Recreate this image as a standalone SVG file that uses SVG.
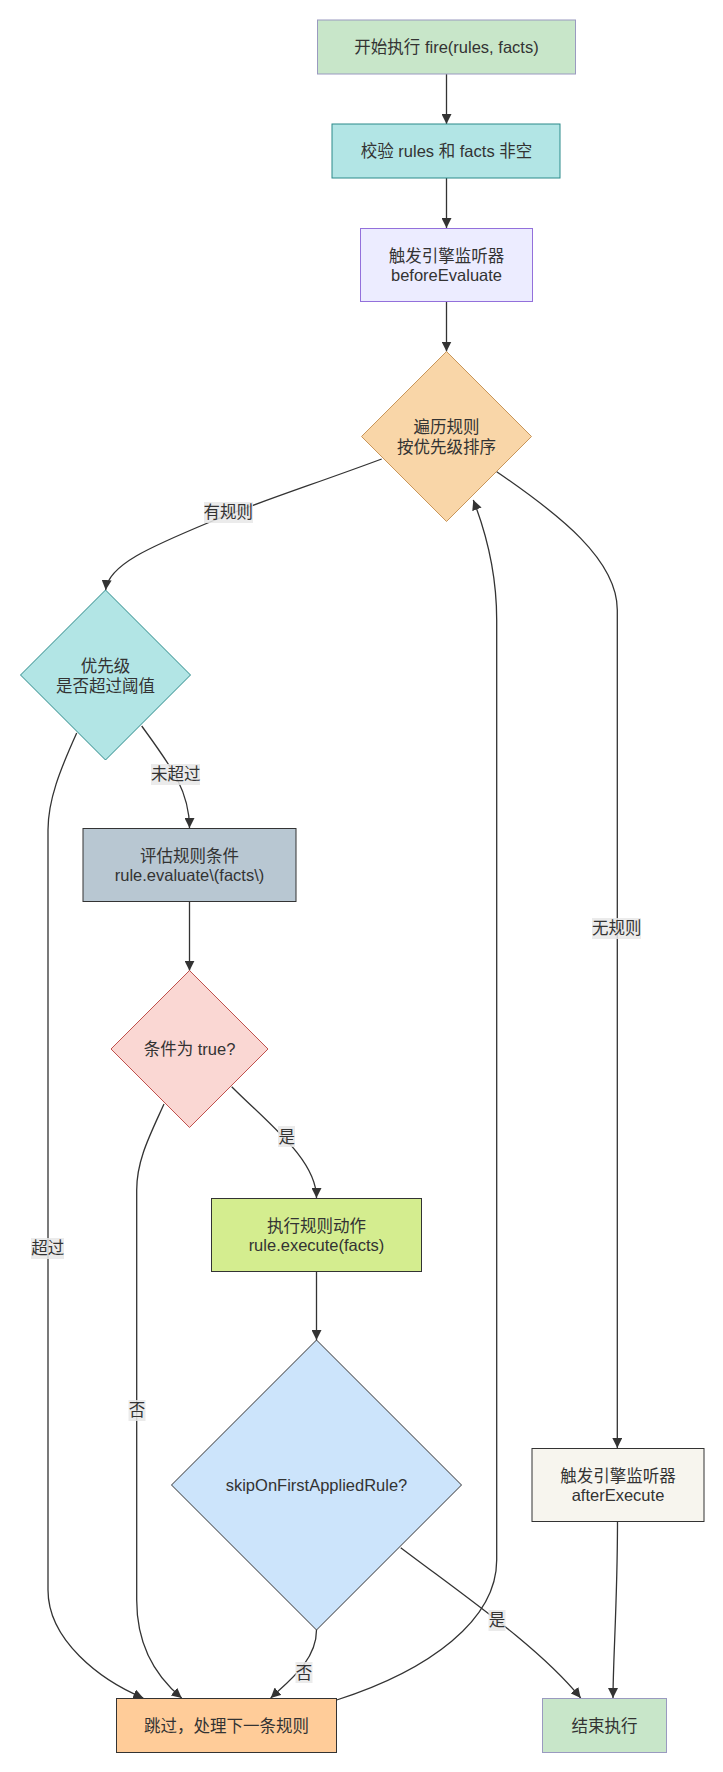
<svg xmlns="http://www.w3.org/2000/svg" width="723" height="1772" viewBox="0 0 723 1772">
<style>
text{font-family:"Liberation Sans","Noto Sans CJK SC",sans-serif;font-size:16.5px;fill:#333;text-anchor:middle;dominant-baseline:central}
.edge{fill:none;stroke:#333;stroke-width:1.3}
.lbl{fill:#e8e8e8;opacity:0.85}
</style>
<defs>
<marker id="arr" viewBox="0 0 10 10" refX="10" refY="5" markerUnits="userSpaceOnUse" markerWidth="10" markerHeight="10" orient="auto">
<path d="M0,0 L10,5 L0,10 z" fill="#333"/>
</marker>
</defs>
<rect width="723" height="1772" fill="#ffffff"/>
<g id="connectors">
<path class="edge" d="M446.5,74 L446.5,124" marker-end="url(#arr)"/>
<path class="edge" d="M446.5,178 L446.5,228" marker-end="url(#arr)"/>
<path class="edge" d="M446.5,301 L446.5,351.5" marker-end="url(#arr)"/>
<path class="edge" d="M381.7,459 C320,482 250,505 210,522 C150,547 108,565 105.7,590" marker-end="url(#arr)"/>
<path class="edge" d="M496.7,471.7 C560,515 617.3,560 617.3,610 L617.3,1448" marker-end="url(#arr)"/>
<path class="edge" d="M141.7,726 C170,765 189.5,790 189.5,828" marker-end="url(#arr)"/>
<path class="edge" d="M76.7,733 C60,770 48,800 48,830 L48,1590 C48,1640 100,1680 143.3,1698" marker-end="url(#arr)"/>
<path class="edge" d="M189.5,901.7 L189.5,970.7" marker-end="url(#arr)"/>
<path class="edge" d="M231.7,1086.7 C270,1125 316.5,1160 316.5,1198" marker-end="url(#arr)"/>
<path class="edge" d="M164,1104 C150,1135 136.7,1160 136.7,1190 L136.7,1600 C136.7,1650 160,1680 181.7,1698" marker-end="url(#arr)"/>
<path class="edge" d="M316.5,1271 L316.5,1340" marker-end="url(#arr)"/>
<path class="edge" d="M316.5,1630 C316.5,1660 290,1680 270.7,1698" marker-end="url(#arr)"/>
<path class="edge" d="M400.7,1547.7 C470,1600 540,1648 580.7,1698" marker-end="url(#arr)"/>
<path class="edge" d="M617.5,1521 C617.5,1600 613,1660 613,1698" marker-end="url(#arr)"/>
<path class="edge" d="M336.7,1700 C430,1670 496.7,1620 496.7,1560 L496.7,620 C496.7,570 485,530 473.3,500" marker-end="url(#arr)"/>
<rect class="lbl" x="204" y="502" width="49" height="21"/><text x="228.3" y="512.3">有规则</text>
<rect class="lbl" x="151" y="764" width="49" height="21"/><text x="175.7" y="774">未超过</text>
<rect class="lbl" x="278" y="1126" width="17" height="21"/><text x="286.7" y="1136.7">是</text>
<rect class="lbl" x="592" y="918" width="49" height="21"/><text x="616.7" y="928.3">无规则</text>
<rect class="lbl" x="31" y="1238" width="33" height="21"/><text x="47.7" y="1248.3">超过</text>
<rect class="lbl" x="128.5" y="1400" width="17" height="21"/><text x="137" y="1410">否</text>
<rect class="lbl" x="295.5" y="1662" width="17" height="21"/><text x="304" y="1672.7">否</text>
<rect class="lbl" x="488.5" y="1610" width="17" height="21"/><text x="497" y="1620">是</text>
</g>
<g id="start">
<rect x="317.5" y="20" width="258" height="54" fill="#c8e6c9" stroke="#9a9ac0" stroke-width="1"/>
<text x="446.5" y="47">开始执行 fire(rules, facts)</text>
</g>
<g id="validate">
<rect x="332" y="124" width="228" height="54" fill="#b2e5e5" stroke="#2a8a8a" stroke-width="1"/>
<text x="446.5" y="151">校验 rules 和 facts 非空</text>
</g>
<g id="beforeEvaluate">
<rect x="360.5" y="228.5" width="172" height="73" fill="#ececff" stroke="#9370db" stroke-width="1"/>
<text x="446.5" y="255.5">触发引擎监听器</text>
<text x="446.5" y="275">beforeEvaluate</text>
</g>
<g id="traverse">
<polygon points="446.5,351.5 531.5,436.5 446.5,521.5 361.5,436.5" fill="#f9d6a8" stroke="#c8965a" stroke-width="1"/>
<text x="446.5" y="427">遍历规则</text>
<text x="446.5" y="447">按优先级排序</text>
</g>
<g id="priority">
<polygon points="105.5,590 190.5,675 105.5,760 20.5,675" fill="#b2e5e5" stroke="#2a8a8a" stroke-width="1"/>
<text x="105.5" y="665.5">优先级</text>
<text x="105.5" y="685.5">是否超过阈值</text>
</g>
<g id="evaluate">
<rect x="83" y="828.5" width="213" height="73" fill="#b8c7d2" stroke="#333" stroke-width="1"/>
<text x="189.5" y="855.5">评估规则条件</text>
<text x="189.5" y="875">rule.evaluate\(facts\)</text>
</g>
<g id="condition">
<polygon points="189.5,970.5 268,1049 189.5,1127.5 111,1049" fill="#fad7d3" stroke="#c0504d" stroke-width="1"/>
<text x="189.5" y="1049">条件为 true?</text>
</g>
<g id="execute">
<rect x="211.5" y="1198.5" width="210" height="73" fill="#d4ed8f" stroke="#333" stroke-width="1"/>
<text x="316.5" y="1225.5">执行规则动作</text>
<text x="316.5" y="1245">rule.execute(facts)</text>
</g>
<g id="skipOnFirst">
<polygon points="316.5,1340 461.5,1485 316.5,1630 171.5,1485" fill="#cce4fb" stroke="#333" stroke-width="1"/>
<text x="316.5" y="1485">skipOnFirstAppliedRule?</text>
</g>
<g id="skip">
<rect x="116.5" y="1698.5" width="220" height="54" fill="#ffcc99" stroke="#333" stroke-width="1"/>
<text x="226.5" y="1725.5">跳过，处理下一条规则</text>
</g>
<g id="afterExecute">
<rect x="532" y="1448.5" width="172" height="73" fill="#f7f5ee" stroke="#333" stroke-width="1"/>
<text x="618" y="1475.5">触发引擎监听器</text>
<text x="618" y="1495">afterExecute</text>
</g>
<g id="end">
<rect x="542.5" y="1698.5" width="124" height="54" fill="#c8e6c9" stroke="#9a9ac0" stroke-width="1"/>
<text x="604.5" y="1725.5">结束执行</text>
</g>
</svg>
